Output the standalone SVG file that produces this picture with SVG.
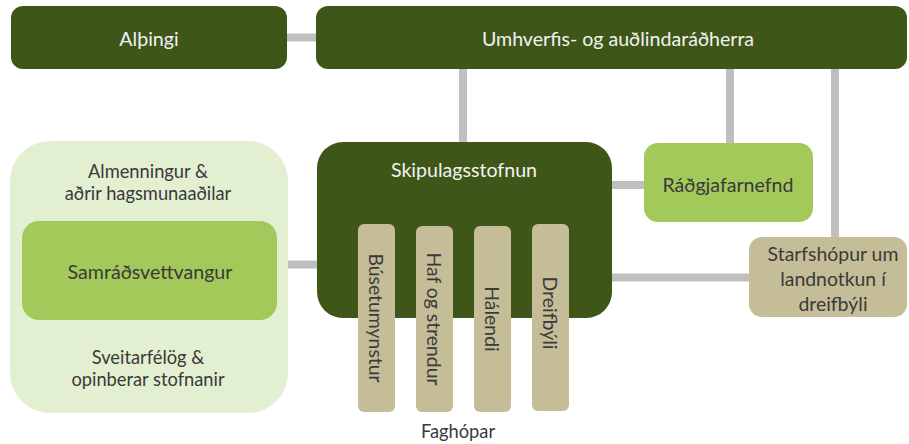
<svg xmlns="http://www.w3.org/2000/svg" width="909" height="444" viewBox="0 0 909 444">
<style>
.conn{stroke:#bfbfbf;stroke-width:8;fill:none}
.dark{fill:#3f5619}
.mid{fill:#a3c95a}
.light{fill:#e3efd1}
.tan{fill:#c5bd98}
text{font-family:Lato,"Open Sans","Liberation Sans",sans-serif;text-anchor:middle;dominant-baseline:central}
.wt{fill:#f2f2f2;font-size:19.6px}
.dt{fill:#3a3a3a;font-size:19.6px}
.st{fill:#3a3a3a;font-size:18.3px}
.vt{fill:#3a3a3a;font-size:19.4px}
</style>
<rect width="909" height="444" fill="#ffffff"/>
<g id="connectors">
<line class="conn" x1="287" y1="37.5" x2="317" y2="37.5"/>
<line class="conn" x1="463" y1="69" x2="463" y2="142"/>
<line class="conn" x1="730" y1="69" x2="730" y2="143"/>
<line class="conn" x1="835" y1="69" x2="835" y2="237"/>
<line class="conn" x1="612" y1="185" x2="644" y2="185"/>
<line class="conn" x1="277" y1="264.5" x2="318" y2="264.5"/>
<line class="conn" x1="569" y1="277.5" x2="750" y2="277.5"/>
</g>
<g id="althingi">
<rect class="dark" x="11" y="6" width="276" height="63" rx="12"/>
<text class="wt" x="149" y="38">Alþingi</text>
</g>
<g id="radherra">
<rect class="dark" x="316" y="6" width="591" height="63" rx="12"/>
<text class="wt" x="618" y="38">Umhverfis- og auðlindaráðherra</text>
</g>
<g id="samrad-group">
<rect class="light" x="10" y="141" width="278" height="272" rx="40"/>
<text class="st" x="148" y="171">Almenningur &amp;</text>
<text class="st" x="148" y="193">aðrir hagsmunaaðilar</text>
<text class="st" x="148" y="357">Sveitarfélög &amp;</text>
<text class="st" x="148" y="379">opinberar stofnanir</text>
</g>
<g id="samradsvettvangur">
<rect class="mid" x="22" y="221" width="255" height="99" rx="17"/>
<text class="dt" x="150" y="271">Samráðsvettvangur</text>
</g>
<g id="skipulagsstofnun">
<rect class="dark" x="317" y="142" width="295" height="176" rx="26"/>
<text class="wt" x="464" y="169">Skipulagsstofnun</text>
</g>
<g id="radgjafarnefnd">
<rect class="mid" x="644" y="143" width="169" height="79" rx="14"/>
<text class="dt" x="728" y="184">Ráðgjafarnefnd</text>
</g>
<g id="starfshopur">
<rect class="tan" x="749" y="237" width="158" height="80" rx="13"/>
<text class="vt" x="833" y="253">Starfshópur um</text>
<text class="vt" x="833" y="278">landnotkun í</text>
<text class="vt" x="833" y="303">dreifbýli</text>
</g>
<g id="busetumynstur">
<rect class="tan" x="358" y="224" width="37" height="188" rx="6"/>
<text class="vt" transform="translate(376.5,318) rotate(90)">Búsetumynstur</text>
</g>
<g id="haf-og-strendur">
<rect class="tan" x="416" y="226" width="37" height="186" rx="6"/>
<text class="vt" transform="translate(434.5,319) rotate(90)">Haf og strendur</text>
</g>
<g id="halendi">
<rect class="tan" x="474" y="226" width="37" height="186" rx="6"/>
<text class="vt" transform="translate(492.5,319) rotate(90)">Hálendi</text>
</g>
<g id="dreifbyli">
<rect class="tan" x="532" y="224" width="37" height="187" rx="6"/>
<text class="vt" transform="translate(550.5,313) rotate(90)">Dreifbýli</text>
</g>
<g id="faghopar">
<text class="st" x="458" y="431">Faghópar</text>
</g>
</svg>
